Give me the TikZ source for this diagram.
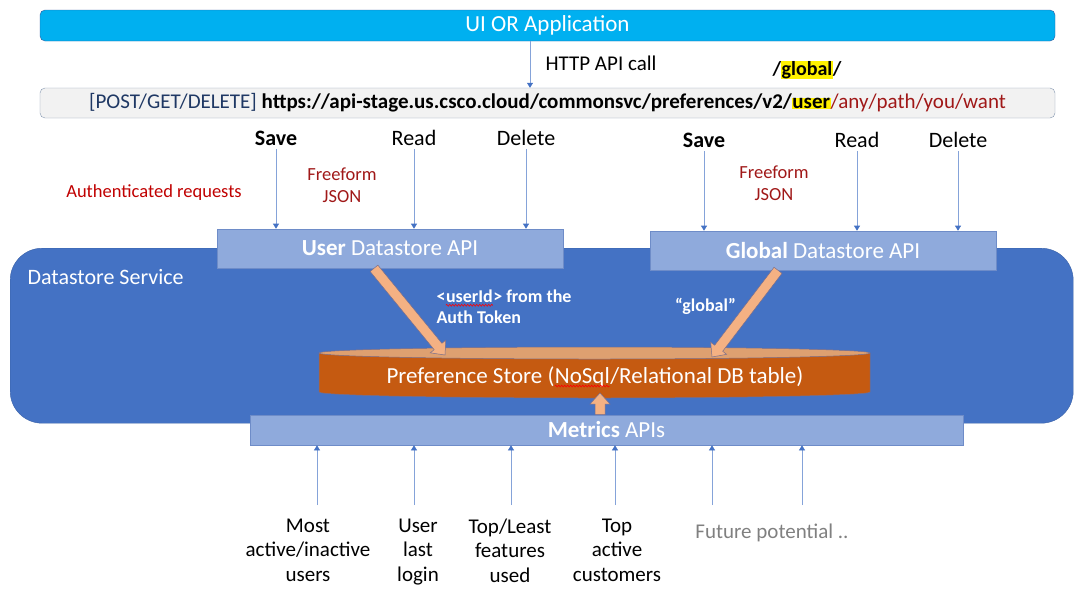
\documentclass[tikz,border=0pt]{standalone}
\usepackage{fontspec}
\setmainfont{Carlito}
\usepackage{tikz}
\usetikzlibrary{positioning}
\usetikzlibrary{arrows.meta}
\usetikzlibrary{calc}
\usetikzlibrary{decorations.pathmorphing}

\definecolor{skyblue}{RGB}{0,176,240}
\definecolor{svcblue}{RGB}{68,114,196}
\definecolor{apiblue}{RGB}{143,170,220}
\definecolor{apiline}{RGB}{110,140,200}
\definecolor{navyblue}{RGB}{31,56,100}
\definecolor{pathred}{RGB}{160,24,24}
\definecolor{authred}{RGB}{192,0,0}
\definecolor{storebody}{RGB}{197,90,17}
\definecolor{storetop}{RGB}{222,160,112}
\definecolor{storeline}{RGB}{120,110,140}
\definecolor{fatorange}{RGB}{244,177,131}
\definecolor{urlgray}{RGB}{242,242,242}
\definecolor{urlline}{RGB}{132,151,176}

\newcommand{\hlyel}[1]{{\setlength{\fboxsep}{0.5pt}\colorbox{yellow}{#1}}}
\newcommand{\redwave}[1]{\tikz[baseline=(w.base)]{\node[inner sep=0] (w) {#1}; \draw[red, line width=0.6, decorate, decoration={snake, amplitude=0.9, segment length=3}] ([yshift=-2.5]w.base west) -- ([yshift=-2.5]w.base east);}}
\newcommand{\fatarrow}[2]{%
	\coordinate (fathead) at ($(#2)!11pt!(#1)$);
	\filldraw[fatshape] ($(#1)!5pt!90:(#2)$) -- ($(fathead)!5pt!90:(#2)$) -- ($(fathead)!10pt!90:(#2)$) -- (#2) -- ($(fathead)!10pt!-90:(#2)$) -- ($(fathead)!5pt!-90:(#2)$) -- ($(#1)!5pt!-90:(#2)$) -- cycle;}

\begin{document}
\begin{tikzpicture}[x=1pt,y=1pt,
	thinarrow/.style={draw=svcblue!65, line width=0.6, -{Triangle[width=6,length=5,color=svcblue]}},
	apibox/.style={draw=apiline, fill=apiblue, text=white, line width=0.6, font=\fontsize{23}{27}\selectfont},
	fatshape/.style={draw=storeline, fill=fatorange, line width=0.5, line join=miter},
	opname/.style={font=\fontsize{22}{26}\selectfont},
	notered/.style={text=pathred, align=center, font=\fontsize{18.5}{22}\selectfont},
	metricname/.style={align=center, anchor=north, font=\fontsize{21}{24.5}\selectfont}]
		\useasboundingbox (0,0) rectangle (1075,-590);
		\node[draw=svcblue!80!black, fill=skyblue, rounded corners=5, minimum width=1015, minimum height=31, text=white, font=\fontsize{23}{27}\selectfont] (ui) at (547.5,-25.5) {UI OR Application};
		\node[draw=urlline, fill=urlgray, rounded corners=5, minimum width=1015, minimum height=30, font=\fontsize{21}{25}\selectfont] (url) at (547.5,-103) {{\color{navyblue}[POST/GET/DELETE]} \textbf{https://api-stage.us.csco.cloud/commonsvc/preferences/v2/\hlyel{user}}{\color{pathred}/any/path/you/want}};
		\draw[thinarrow] ([xshift=-17.5]ui.south) -- ([xshift=-17.5]url.north);
		\node[font=\fontsize{21}{25}\selectfont] (httpcall) at (601,-63) {HTTP API call};
		\node[font=\bfseries\fontsize{20}{24}\selectfont] (globalpath) at (807,-70) {/\hlyel{global}/};
		% outer service
		\node[draw=svcblue!85!black, fill=svcblue, rounded corners=32, minimum width=1063, minimum height=175, anchor=north west] (svc) at (10,-248) {};
		\node[text=white, anchor=west, font=\fontsize{22}{26}\selectfont] (svcname) at (24,-277) {Datastore Service};
		\node[apibox, minimum width=346, minimum height=39] (userapi) at (390,-248.5) {\textbf{User} Datastore API};
		\node[apibox, minimum width=346, minimum height=39] (globalapi) at (823,-250.5) {\textbf{Global} Datastore API};
		\node[opname] (saveu) at (276,-138) {\textbf{Save}};
		\node[opname] (readu) at (414,-138) {Read};
		\node[opname] (delu) at (526,-138) {Delete};
		\node[opname] (saveg) at (704,-140) {\textbf{Save}};
		\node[opname] (readg) at (857,-140) {Read};
		\node[opname] (delg) at (958,-140) {Delete};
		\foreach \n in {saveu,readu,delu} \draw[thinarrow] (\n.south) -- (\n.south |- userapi.north);
		\foreach \n in {saveg,readg,delg} \draw[thinarrow] (\n.south) -- (\n.south |- globalapi.north);
		\node[notered] (jsonu) at (342,-185) {Freeform\\JSON};
		\node[notered] (jsong) at (774,-183) {Freeform\\JSON};
		\node[text=authred, font=\fontsize{18.5}{22}\selectfont] (authreq) at (154,-193) {Authenticated requests};
		% preference store
		\filldraw[fill=storebody, draw=storeline, line width=0.5] (319,-353) -- (319,-392) arc[start angle=180, end angle=360, x radius=275.5, y radius=6] -- (870,-353) -- cycle;
		\filldraw[fill=storetop, draw=storeline, line width=0.5] (594.5,-353) ellipse [x radius=275.5, y radius=6];
		\node[text=white, font=\fontsize{23}{27}\selectfont] (store) at (595,-377) {Preference Store (\redwave{NoSql}/Relational DB table)};
		\coordinate (storetop) at (595,-353);
		\node[apibox, minimum width=713, minimum height=30] (metrics) at (606.5,-430) {\textbf{Metrics} APIs};
		\coordinate (utail) at ([xshift=-16]userapi.south);
		\coordinate (utip) at ([xshift=-150,yshift=-2]storetop);
		\coordinate (gtail) at ([xshift=-45]globalapi.south);
		\coordinate (gtip) at ([xshift=117,yshift=-4]storetop);
		\coordinate (mtail) at ([xshift=-6.5]metrics.north);
		\coordinate (mtip) at ([xshift=5,yshift=-40]storetop);
		\fatarrow{utail}{utip}
		\fatarrow{gtail}{gtip}
		\fatarrow{mtail}{mtip}
		\node[text=white, align=left, anchor=west, font=\bfseries\fontsize{18}{21}\selectfont] (userid) at (433,-307) {<\redwave{userId}> from the\\Auth Token};
		\node[text=white, font=\bfseries\fontsize{18}{21}\selectfont] (globalkey) at (705.5,-306) {``global''};
		% metric sources
		\node[metricname] (mostact) at (308,-515) {Most\\active/inactive\\users};
		\node[metricname] (lastlogin) at (418,-515) {User\\last\\login};
		\node[metricname] (topfeat) at (510,-515) {Top/Least\\features\\used};
		\node[metricname] (topcust) at (617,-515) {Top\\active\\customers};
		\node[text=gray, font=\fontsize{21}{25}\selectfont] (future) at (772,-533) {Future potential ..};
		\foreach \x/\n in {317/a,414/b,511/c,615/d,712/e,802/f} {
			\coordinate (src\n) at (\x,-505);
			\draw[thinarrow] (src\n) -- (src\n |- metrics.south);
		}
	\end{tikzpicture}
\end{document}
